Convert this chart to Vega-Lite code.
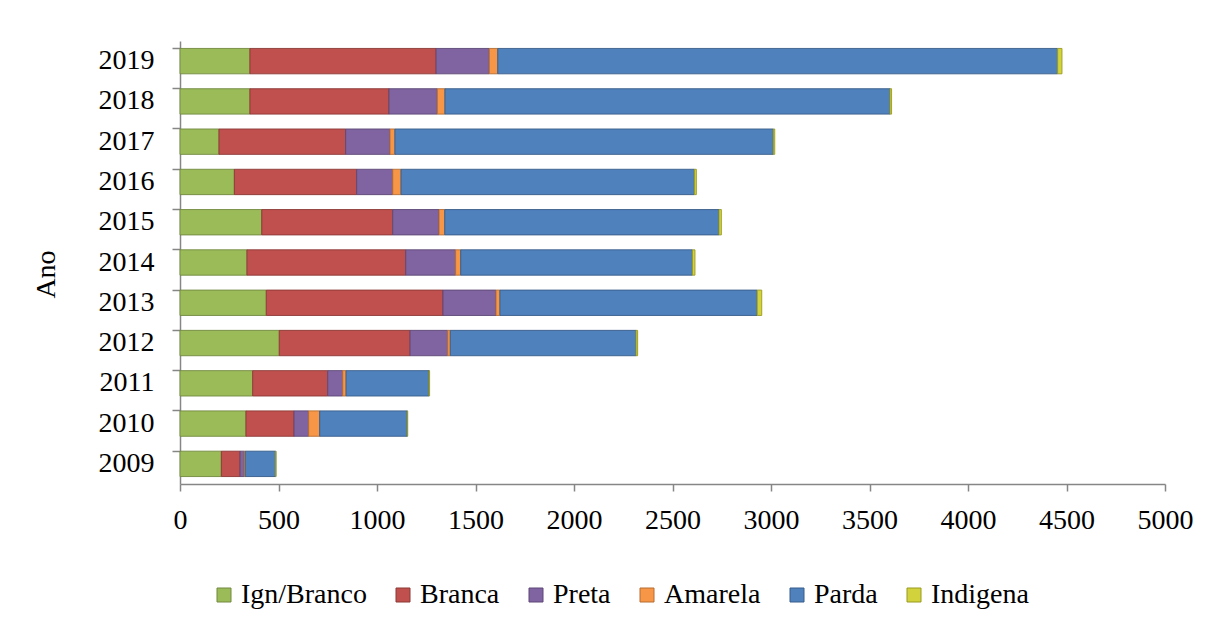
{
  "$schema": "https://vega.github.io/schema/vega-lite/v6.json",
  "autosize": {"type": "none"},
  "width": 985,
  "height": 443,
  "padding": {"left": 180, "top": 41, "right": 56, "bottom": 144},
  "background": "white",
  "config": {
    "font": "Liberation Serif",
    "view": {"stroke": null},
    "axis": {"domainColor": "#868686", "tickColor": "#868686", "labelColor": "#000000", "titleColor": "#000000", "labelFont": "Liberation Serif", "titleFont": "Liberation Serif"}
  },
  "data": {"values": [
    {"Ano": "2019", "Cor": "Ign/Branco", "n": 355}, {"Ano": "2019", "Cor": "Branca", "n": 945}, {"Ano": "2019", "Cor": "Preta", "n": 270}, {"Ano": "2019", "Cor": "Amarela", "n": 43}, {"Ano": "2019", "Cor": "Parda", "n": 2842}, {"Ano": "2019", "Cor": "Indigena", "n": 22},
    {"Ano": "2018", "Cor": "Ign/Branco", "n": 355}, {"Ano": "2018", "Cor": "Branca", "n": 706}, {"Ano": "2018", "Cor": "Preta", "n": 245}, {"Ano": "2018", "Cor": "Amarela", "n": 39}, {"Ano": "2018", "Cor": "Parda", "n": 2259}, {"Ano": "2018", "Cor": "Indigena", "n": 8},
    {"Ano": "2017", "Cor": "Ign/Branco", "n": 198}, {"Ano": "2017", "Cor": "Branca", "n": 643}, {"Ano": "2017", "Cor": "Preta", "n": 225}, {"Ano": "2017", "Cor": "Amarela", "n": 25}, {"Ano": "2017", "Cor": "Parda", "n": 1921}, {"Ano": "2017", "Cor": "Indigena", "n": 7},
    {"Ano": "2016", "Cor": "Ign/Branco", "n": 276}, {"Ano": "2016", "Cor": "Branca", "n": 621}, {"Ano": "2016", "Cor": "Preta", "n": 183}, {"Ano": "2016", "Cor": "Amarela", "n": 42}, {"Ano": "2016", "Cor": "Parda", "n": 1489}, {"Ano": "2016", "Cor": "Indigena", "n": 10},
    {"Ano": "2015", "Cor": "Ign/Branco", "n": 415}, {"Ano": "2015", "Cor": "Branca", "n": 665}, {"Ano": "2015", "Cor": "Preta", "n": 235}, {"Ano": "2015", "Cor": "Amarela", "n": 29}, {"Ano": "2015", "Cor": "Parda", "n": 1392}, {"Ano": "2015", "Cor": "Indigena", "n": 12},
    {"Ano": "2014", "Cor": "Ign/Branco", "n": 340}, {"Ano": "2014", "Cor": "Branca", "n": 806}, {"Ano": "2014", "Cor": "Preta", "n": 253}, {"Ano": "2014", "Cor": "Amarela", "n": 26}, {"Ano": "2014", "Cor": "Parda", "n": 1176}, {"Ano": "2014", "Cor": "Indigena", "n": 13},
    {"Ano": "2013", "Cor": "Ign/Branco", "n": 438}, {"Ano": "2013", "Cor": "Branca", "n": 897}, {"Ano": "2013", "Cor": "Preta", "n": 269}, {"Ano": "2013", "Cor": "Amarela", "n": 20}, {"Ano": "2013", "Cor": "Parda", "n": 1306}, {"Ano": "2013", "Cor": "Indigena", "n": 23},
    {"Ano": "2012", "Cor": "Ign/Branco", "n": 504}, {"Ano": "2012", "Cor": "Branca", "n": 664}, {"Ano": "2012", "Cor": "Preta", "n": 191}, {"Ano": "2012", "Cor": "Amarela", "n": 13}, {"Ano": "2012", "Cor": "Parda", "n": 943}, {"Ano": "2012", "Cor": "Indigena", "n": 8},
    {"Ano": "2011", "Cor": "Ign/Branco", "n": 369}, {"Ano": "2011", "Cor": "Branca", "n": 381}, {"Ano": "2011", "Cor": "Preta", "n": 76}, {"Ano": "2011", "Cor": "Amarela", "n": 17}, {"Ano": "2011", "Cor": "Parda", "n": 421}, {"Ano": "2011", "Cor": "Indigena", "n": 3},
    {"Ano": "2010", "Cor": "Ign/Branco", "n": 335}, {"Ano": "2010", "Cor": "Branca", "n": 244}, {"Ano": "2010", "Cor": "Preta", "n": 74}, {"Ano": "2010", "Cor": "Amarela", "n": 56}, {"Ano": "2010", "Cor": "Parda", "n": 445}, {"Ano": "2010", "Cor": "Indigena", "n": 2},
    {"Ano": "2009", "Cor": "Ign/Branco", "n": 210}, {"Ano": "2009", "Cor": "Branca", "n": 95}, {"Ano": "2009", "Cor": "Preta", "n": 20}, {"Ano": "2009", "Cor": "Amarela", "n": 6}, {"Ano": "2009", "Cor": "Parda", "n": 155}, {"Ano": "2009", "Cor": "Indigena", "n": 1}
  ]},
  "transform": [
    {"calculate": "indexof(['Ign/Branco','Branca','Preta','Amarela','Parda','Indigena'], datum.Cor)", "as": "ordem"}
  ],
  "mark": {"type": "bar", "strokeWidth": 1, "strokeOpacity": 0.9},
  "encoding": {
    "y": {
      "field": "Ano", "type": "nominal", "sort": "descending",
      "scale": {"paddingInner": 0.37, "paddingOuter": 0.185},
      "axis": {
        "title": "Ano", "titleFontSize": 28, "titleFontWeight": "normal",
        "titleX": -134, "titleY": 233, "titleAlign": "center", "titleBaseline": "middle", "titleAngle": -90,
        "labelFontSize": 28, "labelPadding": 18, "tickSize": 8, "bandPosition": 0,
        "domainWidth": 1.5, "tickWidth": 1.5
      }
    },
    "x": {
      "field": "n", "type": "quantitative", "stack": "zero",
      "scale": {"domain": [0, 5000], "nice": false},
      "axis": {
        "title": null, "values": [0, 500, 1000, 1500, 2000, 2500, 3000, 3500, 4000, 4500, 5000],
        "format": "d", "grid": false, "labelFontSize": 28, "labelPadding": 15, "tickSize": 7,
        "domainWidth": 1.5, "tickWidth": 1.5, "labelFlush": false
      }
    },
    "order": {"field": "ordem", "type": "quantitative", "sort": "ascending"},
    "color": {
      "field": "Cor", "type": "nominal",
      "sort": ["Ign/Branco", "Branca", "Preta", "Amarela", "Parda", "Indigena"],
      "scale": {
        "domain": ["Ign/Branco", "Branca", "Preta", "Amarela", "Parda", "Indigena"],
        "range": ["#9BBB59", "#C0504D", "#8064A2", "#F79646", "#4F81BD", "#D2D23C"]
      },
      "legend": {
        "title": null, "orient": "none", "direction": "horizontal",
        "legendX": 30, "legendY": 540, "columns": 6,
        "symbolType": "square", "symbolSize": 196, "symbolStrokeWidth": 1,
        "labelFontSize": 28, "labelFont": "Liberation Serif", "labelColor": "#000000",
        "labelOffset": 3, "columnPadding": 22, "symbolOpacity": 1
      }
    },
    "stroke": {
      "field": "Cor", "type": "nominal", "legend": null,
      "scale": {
        "domain": ["Ign/Branco", "Branca", "Preta", "Amarela", "Parda", "Indigena"],
        "range": ["#71893F", "#8C3836", "#5C4776", "#B66D31", "#385D8A", "#9A9A20"]
      }
    }
  }
}
